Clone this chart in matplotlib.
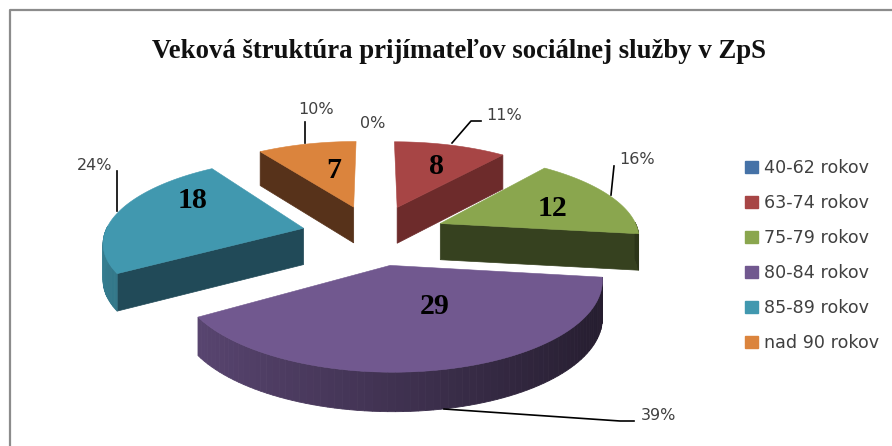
import numpy as np
import matplotlib
matplotlib.use('Agg')
import matplotlib.pyplot as plt
from matplotlib.patches import Patch, Polygon

# Datos
categorias = ['40-62 rokov', '63-74 rokov', '75-79 rokov', '80-84 rokov', '85-89 rokov', 'nad 90 rokov']
valores = [0, 8, 12, 29, 18, 7]
porcentajes = ['0%', '11%', '16%', '39%', '24%', '10%']
titulo = 'Veková štruktúra prijímateľov sociálnej služby v ZpS'

# Colores
c_arriba = ['#4572A7', '#A74545', '#8AA64E', '#71588F', '#4198AF', '#DB843D']
c_lado = ['#2A4566', '#6D2B2B', '#36411F', '#2E2540', '#214A58', '#57321A']

# Perspectiva del pastel (pixeles)
cx, cy = 374, 234.5
a, m, g = 199, -82.0, 0.141
explosion = 0.366

# Posiciones de textos y lineas
pos_valor = [None, (436, 167), (552, 208), (435, 307), (193, 200), (334, 171)]
pos_pct = [(373, 123), (504, 115), (637, 159), (658, 415), (95, 165), (316, 110)]
guias = [None,
         [(481, 121), (471, 121), (452, 143)],
         [(614, 166), (611, 195)],
         [(634, 421), (620, 421), (444, 409)],
         [(117, 171), (117, 211)],
         [(305, 122), (305, 143)]]


def proyectar(X, Y, z=0.0):
    den = 1 + g * Y
    return cx + a * X / den, cy + m * Y / den + z * (36.5 - 2.2 * Y)


def mezcla(c1, c2, t):
    c1 = np.array(matplotlib.colors.to_rgb(c1))
    c2 = np.array(matplotlib.colors.to_rgb(c2))
    return tuple(c1 + (c2 - c1) * t)


fig = plt.figure(figsize=(8.92, 4.46), dpi=100)
ax = fig.add_axes([0, 0, 1, 1])
ax.set_xlim(0, 892)
ax.set_ylim(446, 0)
ax.axis('off')

# Marco del grafico
ax.plot([10, 10, 892], [446, 10, 10], color='#8C8C8C', lw=1.6)

fracciones = np.cumsum([0] + valores) / np.sum(valores) * 2 * np.pi
orden = [5, 1, 4, 2, 3]  # de atras hacia adelante

for i in orden:
    t0, t1 = fracciones[i], fracciones[i + 1]
    tm = (t0 + t1) / 2
    ox, oy = explosion * np.sin(tm), explosion * np.cos(tm)
    t = np.linspace(t0, t1, 80)
    X = ox + np.sin(t)
    Y = oy + np.cos(t)

    # caras radiales visibles
    for borde, visible in ((t0, np.sin(t0) < -0.01), (t1, np.sin(t1) > 0.01)):
        if visible:
            bx, by = ox + np.sin(borde), oy + np.cos(borde)
            puntos = [proyectar(ox, oy), proyectar(bx, by), proyectar(bx, by, 1), proyectar(ox, oy, 1)]
            ax.add_patch(Polygon(puntos, closed=True, fc=c_lado[i], ec=c_lado[i], lw=0.5, zorder=2))

    # borde curvo con degradado
    for k in range(len(t) - 1):
        if np.cos(t[k]) < 0.02:
            puntos = [proyectar(X[k], Y[k]), proyectar(X[k + 1], Y[k + 1]),
                      proyectar(X[k + 1], Y[k + 1], 1), proyectar(X[k], Y[k], 1)]
            f = np.clip((np.sin(t[k]) + 1) / 2, 0, 1)
            color = mezcla(mezcla(c_arriba[i], '#000000', 0.18), mezcla(c_arriba[i], '#000000', 0.68), f)
            ax.add_patch(Polygon(puntos, closed=True, fc=color, ec=color, lw=0.6, zorder=3))

    # cara superior
    sx, sy = proyectar(np.r_[ox, X], np.r_[oy, Y])
    ax.add_patch(Polygon(np.c_[sx, sy], closed=True, fc=c_arriba[i], ec=c_arriba[i], lw=0.4, zorder=4))

# Lineas guia
for g_linea in guias:
    if g_linea:
        xs, ys = zip(*g_linea)
        ax.plot(xs, ys, color='black', lw=1.2, zorder=5)

# Etiquetas
for i in range(len(valores)):
    if pos_valor[i]:
        ax.text(pos_valor[i][0], pos_valor[i][1], str(valores[i]), family='Liberation Serif', weight='bold',
                fontsize=21.5, ha='center', va='center', color='black', zorder=6)
    ax.text(pos_pct[i][0], pos_pct[i][1], porcentajes[i], fontsize=11.5, ha='center', va='center',
            color='#404040', zorder=6)

ax.text(459, 51, titulo, family='Liberation Serif', weight='bold', fontsize=19.3, ha='center', va='center',
        color='#111111')

# Leyenda
handles = [Patch(fc=c, ec=c) for c in c_arriba]
ax.legend(handles, categorias, loc='upper left', bbox_to_anchor=(0.825, 0.663), frameon=False, fontsize=12.6,
          labelspacing=0.975, handlelength=0.74, handleheight=0.66, handletextpad=0.34, borderpad=0,
          labelcolor='#404040')

plt.savefig('out.png', dpi=100)
